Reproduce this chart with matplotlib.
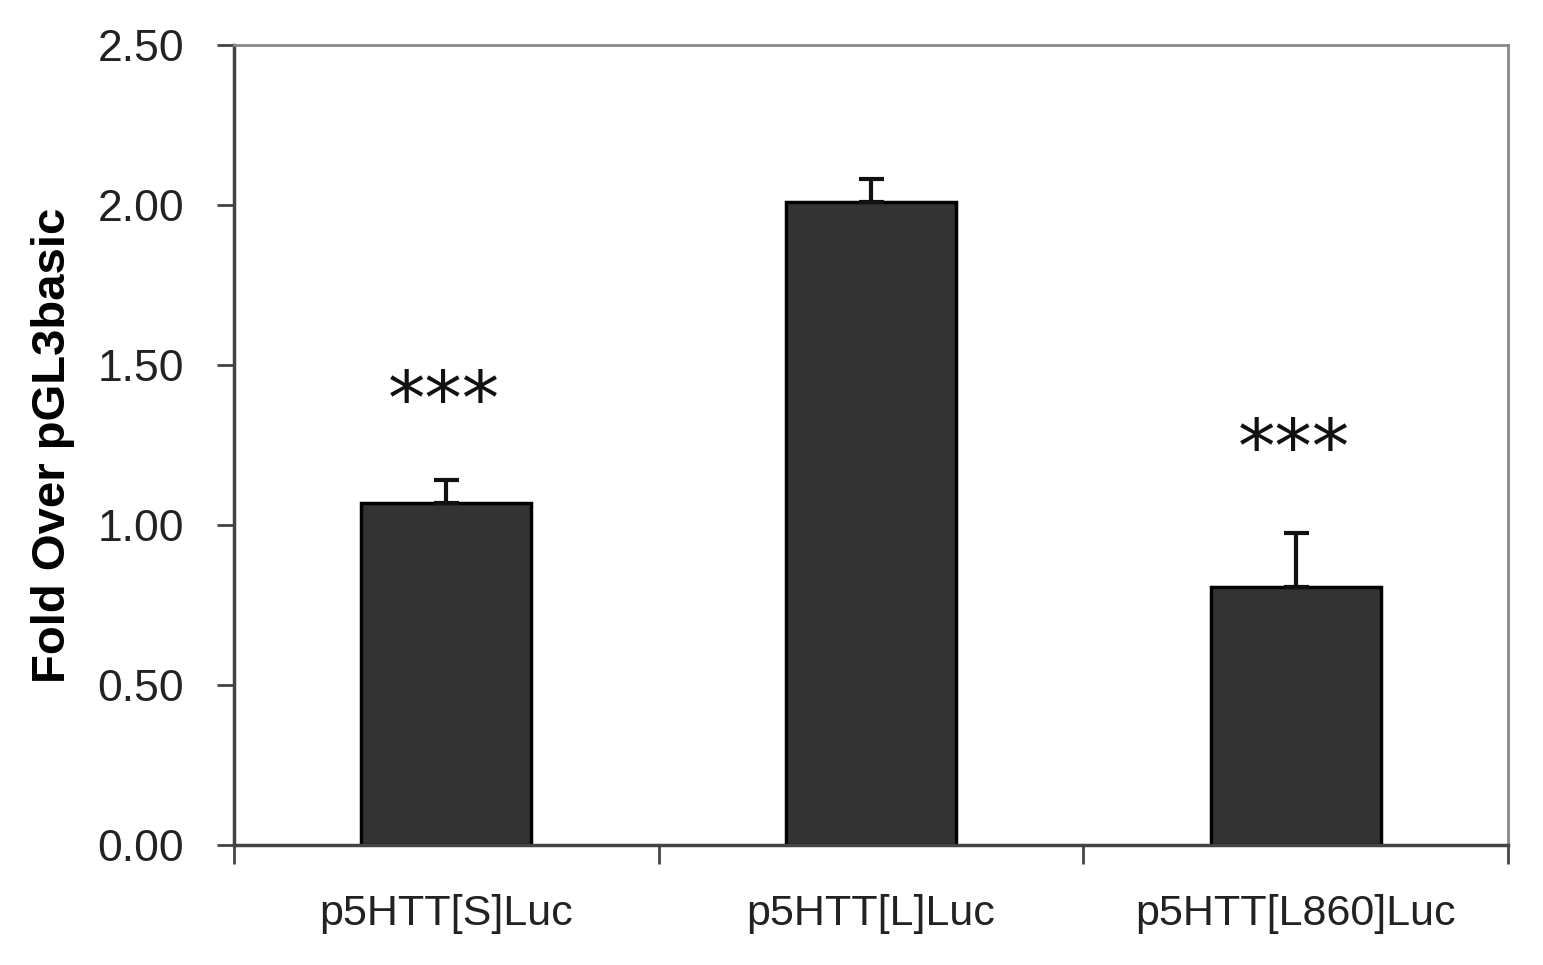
import matplotlib
matplotlib.use("Agg")
import matplotlib.pyplot as plt
import numpy as np

categories = ["p5HTT[S]Luc", "p5HTT[L]Luc", "p5HTT[L860]Luc"]
values = [1.07, 2.01, 0.805]
errors = [0.07, 0.07, 0.17]
stars = ["***", "", "***"]
star_y = [1.38, None, 1.23]
yticks = [0.0, 0.5, 1.0, 1.5, 2.0, 2.5]

plt.rcParams['font.family'] = ['Liberation Sans', 'DejaVu Sans']

fig = plt.figure(figsize=(15.43, 9.65), dpi=100)
ax = fig.add_axes([234/1543, 1-845/965, (1508-234)/1543, (845-45)/965])

x = np.arange(len(categories))
ax.bar(x, values, width=0.4, color='#333333', edgecolor='black', linewidth=2.5, zorder=2)
ax.errorbar(x, values, yerr=[np.zeros(len(errors)), errors], fmt='none',
            ecolor='#111111', elinewidth=3, capsize=9, capthick=3, zorder=3)

for xi, s, sy in zip(x, stars, star_y):
    if s:
        ax.text(xi - 0.005, sy, s, ha='center', va='center', fontsize=54,
                family='DejaVu Sans', color='#111111')

ax.set_xlim(-0.5, 2.5)
ax.set_ylim(0, 2.5)
ax.set_yticks(yticks)
ax.set_yticklabels([f"{t:.2f}" for t in yticks], fontsize=32, color='#222222')
ax.set_xticks([-0.5, 0.5, 1.5, 2.5])
ax.set_xticklabels([])
ax.set_xticks(x, minor=True)
ax.set_xticklabels(categories, minor=True, fontsize=31, color='#222222')
ax.tick_params(axis='x', which='minor', length=0, pad=35)
ax.tick_params(axis='x', which='major', direction='out', length=14, width=2, color='#444444')
ax.tick_params(axis='y', direction='out', length=12, width=2, color='#444444', pad=24)

for side in ['left', 'bottom']:
    ax.spines[side].set_color('#444444')
    ax.spines[side].set_linewidth(2.5)
for side in ['top', 'right']:
    ax.spines[side].set_color('#888888')
    ax.spines[side].set_linewidth(2)

ax.set_ylabel("Fold Over pGL3basic", fontsize=34, fontweight='bold')
ax.yaxis.set_label_coords(-0.125, 0.5)

fig.savefig("out.png", dpi=100, facecolor='white')
